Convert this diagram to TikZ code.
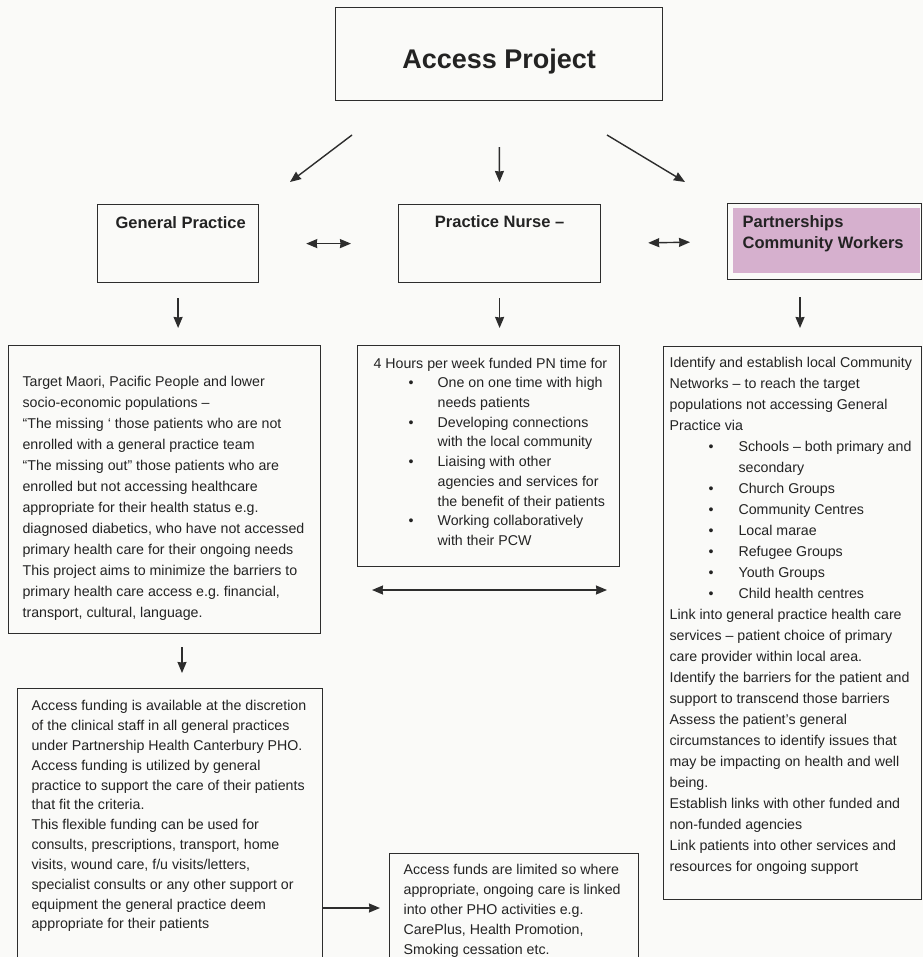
\documentclass[tikz,border=0pt]{standalone}
\usepackage{fontspec}
\setmainfont{Liberation Sans}
\usetikzlibrary{arrows.meta}
\definecolor{inkc}{RGB}{35,35,35}
\definecolor{linec}{RGB}{45,45,45}
\definecolor{paperc}{RGB}{250,250,248}
\definecolor{cwpink}{RGB}{214,176,206}
% box body: width, height, alignment, first baseline, text
\newcommand{\boxtext}[5]{\parbox[t][#2][t]{#1}{#3\rule{0pt}{#4}#5}}
\newcommand{\leftpad}[1]{\raggedright\leftskip=#1\rightskip=-30pt plus 1fil\relax}
\newcommand{\pnbul}{\hspace*{51pt}\makebox[29pt][l]{\textbullet}}
\newcommand{\pnind}{\hspace*{80pt}}
\newcommand{\cwbul}{\hspace*{39pt}\makebox[30pt][l]{\textbullet}}
\newcommand{\cwind}{\hspace*{69pt}}
\frenchspacing
\begin{document}
\begin{tikzpicture}[x=1pt,y=-1pt,>={Stealth[length=11pt,width=9pt,inset=0.5pt]},
  box/.style={draw=linec,line width=1.2pt,inner sep=0pt,anchor=north west,text=inkc},
  body/.style={font=\fontsize{14.2}{#1}\selectfont},
  head/.style={font=\bfseries\fontsize{16.5}{21}\selectfont},
  arr/.style={->,draw=linec,fill=linec,line width=1.4pt}]
\useasboundingbox (0,0) rectangle (923,957);
\fill[paperc] (0,0) rectangle (923,957);
% top: the project
\node[box,font=\bfseries\fontsize{27}{32}\selectfont] (ap) at (335,7) {\boxtext{327pt}{93pt}{\centering}{61.3pt}{Access Project}};
% row of three partners
\fill[cwpink] (733,208) rectangle (920,273);
\node[box,head] (gp) at (97,204) {\boxtext{161pt}{78pt}{\leftpad{18pt}}{23.7pt}{General Practice}};
\node[box,head] (pn) at (398,204) {\boxtext{202pt}{78pt}{\centering}{22.7pt}{Practice Nurse –}};
\node[box,head] (cw) at (727,203) {\boxtext{194pt}{76pt}{\leftpad{15pt}}{23.7pt}{Partnerships\\Community Workers}};
% what each one does
\node[box,body=21] (tgt) at (8,345) {\boxtext{312pt}{288pt}{\leftpad{14pt}}{40.5pt}{%
Target Maori, Pacific People and lower\\
socio-economic populations –\\
“The missing ‘ those patients who are not\\
enrolled with a general practice team\\
“The missing out” those patients who are\\
enrolled but not accessing healthcare\\
appropriate for their health status e.g.\\
diagnosed diabetics, who have not accessed\\
primary health care for their ongoing needs\\
This project aims to minimize the barriers to\\
primary health care access e.g. financial,\\
transport, cultural, language.}};
\node[box,body=19.7] (pntime) at (357,345) {\boxtext{262pt}{221pt}{\leftpad{0pt}}{22.5pt}{%
\hspace*{16pt}4 Hours per week funded PN time for\\
\pnbul One on one time with high\\
\pnind needs patients\\
\pnbul Developing connections\\
\pnind with the local community\\
\pnbul Liaising with other\\
\pnind agencies and services for\\
\pnind the benefit of their patients\\
\pnbul Working collaboratively\\
\pnind with their PCW}};
\node[box,body=21] (cwtask) at (663,346) {\boxtext{258pt}{553pt}{\leftpad{6pt}}{21pt}{%
Identify and establish local Community\\
Networks – to reach the target\\
populations not accessing General\\
Practice via\\
\cwbul Schools – both primary and\\
\cwind secondary\\
\cwbul Church Groups\\
\cwbul Community Centres\\
\cwbul Local marae\\
\cwbul Refugee Groups\\
\cwbul Youth Groups\\
\cwbul Child health centres\\
Link into general practice health care\\
services – patient choice of primary\\
care provider within local area.\\
Identify the barriers for the patient and\\
support to transcend those barriers\\
Assess the patient’s general\\
circumstances to identify issues that\\
may be impacting on health and well\\
being.\\
Establish links with other funded and\\
non-funded agencies\\
Link patients into other services and\\
resources for ongoing support}};
% funding
\node[box,body=19.85] (fund) at (17,688) {\boxtext{305pt}{300pt}{\leftpad{14pt}}{22pt}{%
Access funding is available at the discretion\\
of the clinical staff in all general practices\\
under Partnership Health Canterbury PHO.\\
Access funding is utilized by general\\
practice to support the care of their patients\\
that fit the criteria.\\
This flexible funding can be used for\\
consults, prescriptions, transport, home\\
visits, wound care, f/u visits/letters,\\
specialist consults or any other support or\\
equipment the general practice deem\\
appropriate for their patients}};
\node[box,body=20] (limit) at (389,853) {\boxtext{249pt}{130pt}{\leftpad{14pt}}{21pt}{%
Access funds are limited so where\\
appropriate, ongoing care is linked\\
into other PHO activities e.g.\\
CarePlus, Health Promotion,\\
Smoking cessation etc.}};
% arrows
\coordinate (gpA) at (352,135); \coordinate (gpB) at (290,182);
\coordinate (cwA) at (607,135); \coordinate (cwB) at (685,182);
\coordinate (cwC) at (800,297); \coordinate (cwD) at (800,328);
\coordinate (tgA) at (182,647); \coordinate (tgB) at (182,673);
\coordinate (pnA) at (372,590); \coordinate (pnB) at (607,590);
\coordinate (fdA) at (323,908); \coordinate (fdB) at (380,908);
\draw[arr] (gpA) -- (gpB);
\draw[arr,shorten <=46pt,shorten >=22pt] (ap.south) -- (pn.north);
\draw[arr] (cwA) -- (cwB);
\draw[arr,<->,shorten <=47pt,shorten >=47pt] (gp.east) -- (pn.west);
\draw[arr,<->,shorten <=47pt,shorten >=37pt] (pn.east) -- (cw.west);
\draw[arr,shorten <=15pt,shorten >=17pt] (gp.south) -- (gp.south |- tgt.north);
\draw[arr,shorten <=15pt,shorten >=17pt] (pn.south) -- (pn.south |- pntime.north);
\draw[arr] (cwC) -- (cwD);
\draw[arr] (tgA) -- (tgB);
\draw[arr,<->] (pnA) -- (pnB);
\draw[arr] (fdA) -- (fdB);
\end{tikzpicture}
\end{document}
